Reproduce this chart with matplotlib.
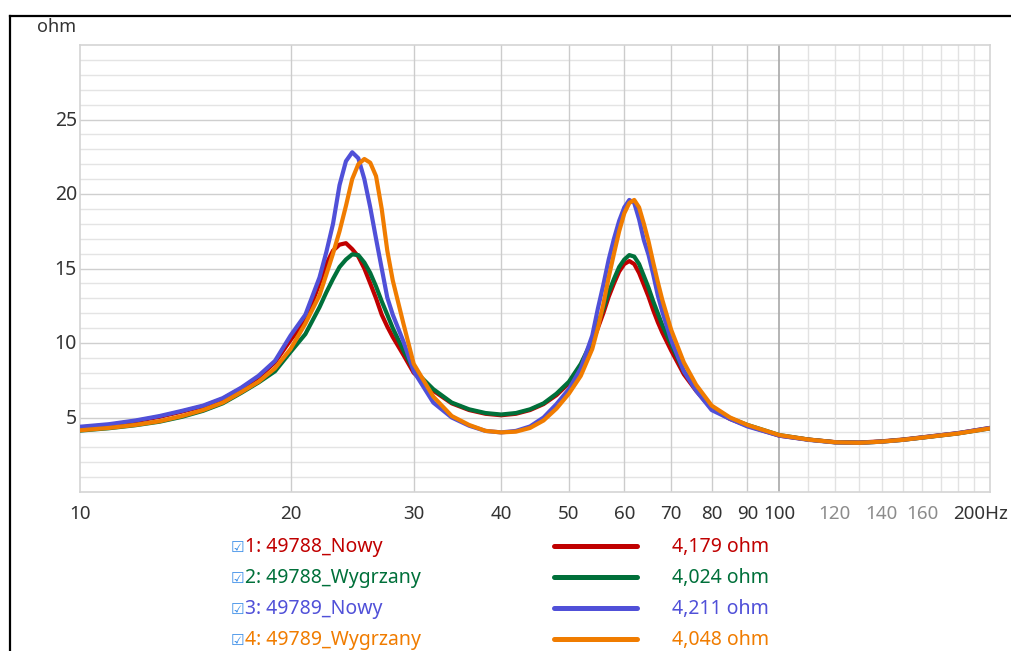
import matplotlib
matplotlib.use("Agg")
import matplotlib.pyplot as plt
from matplotlib.lines import Line2D
from matplotlib.ticker import FixedLocator, NullFormatter

plt.rcParams['font.family'] = ['Noto Sans', 'DejaVu Sans']

# Frequency grid (Hz)
freq = [10, 11, 12, 13, 14, 15, 16, 17, 18, 19, 20, 21, 22, 22.5, 23, 23.5,
        24, 24.5, 25, 25.5, 26, 26.5, 27, 27.5, 28, 29, 30, 32, 34, 36, 38,
        40, 42, 44, 46, 48, 50, 52, 54, 55, 56, 57, 58, 59, 60, 61, 62, 63,
        64, 65, 66, 67, 68, 70, 73, 76, 80, 85, 90,
        100, 110, 120, 130, 140, 150, 160, 180, 200]

# Impedance magnitude (ohm)
z_49788_nowy = [4.33, 4.5, 4.75, 5.05, 5.4, 5.75, 6.25, 6.95, 7.7, 8.7, 10.2,
                11.5, 14.0, 15.3, 16.2, 16.6, 16.7, 16.3, 15.8, 15.0, 14.0,
                13.0, 11.9, 11.1, 10.4, 9.2, 8.0, 6.8, 5.95, 5.5, 5.25,
                5.15, 5.25, 5.5, 5.9, 6.5, 7.3, 8.5, 10.0, 11.0, 12.0, 13.1,
                14.0, 14.8, 15.3, 15.5, 15.3, 14.7,
                13.9, 13.1, 12.2, 11.4, 10.7, 9.5, 7.9, 6.8, 5.6, 4.9, 4.45,
                3.78, 3.52, 3.35, 3.32, 3.4, 3.52, 3.67, 3.95, 4.3]

z_49788_wygrzany = [4.12, 4.28, 4.48, 4.72, 5.05, 5.45, 5.95, 6.65, 7.35, 8.1,
                    9.4, 10.6, 12.4, 13.4, 14.3, 15.1, 15.6, 15.95, 15.9,
                    15.4, 14.7, 13.8, 12.8, 11.9, 11.0, 9.5, 8.2, 6.9, 6.0,
                    5.55, 5.3, 5.2, 5.3, 5.55, 5.95, 6.6, 7.4, 8.6, 10.2, 11.3,
                    12.3, 13.4, 14.3, 15.1, 15.6, 15.9, 15.8, 15.3,
                    14.5, 13.7, 12.8, 12.0, 11.2, 9.9, 8.1, 6.9, 5.7, 4.95, 4.5,
                    3.82, 3.52, 3.34, 3.3, 3.38, 3.5, 3.65, 3.93, 4.27]

z_49789_nowy = [4.38, 4.55, 4.8, 5.1, 5.45, 5.8, 6.3, 7.0, 7.8, 8.8, 10.5,
                11.9, 14.4, 16.1, 18.0, 20.6, 22.2, 22.8, 22.4, 21.0, 19.1,
                17.0, 15.0, 13.05, 11.9, 10.1, 8.1, 6.0, 5.0, 4.45, 4.1,
                4.0, 4.1, 4.4, 5.0, 5.9, 6.9, 8.3, 10.5, 12.3, 13.9, 15.6,
                17.0, 18.2, 19.1, 19.6, 19.4, 18.3,
                16.9, 15.9, 14.6, 13.2, 12.1, 10.2, 8.1, 6.8, 5.5, 4.9, 4.4,
                3.78, 3.5, 3.33, 3.3, 3.38, 3.5, 3.66, 3.95, 4.3]

z_49789_wygrzany = [4.14, 4.3, 4.5, 4.75, 5.1, 5.5, 6.0, 6.7, 7.4, 8.3, 9.6,
                    11.3, 13.2, 14.6, 16.0, 17.5, 19.2, 21.0, 22.0, 22.35, 22.1,
                    21.2, 19.0, 16.2, 14.2, 11.3, 8.6, 6.4, 5.1, 4.5, 4.1,
                    4.0, 4.05, 4.3, 4.8, 5.6, 6.6, 7.8, 9.6, 11.0, 12.6, 14.4,
                    16.0, 17.5, 18.7, 19.4, 19.6, 19.1,
                    18.0, 16.8, 15.4, 14.1, 12.9, 10.9, 8.7, 7.2, 5.8, 5.0, 4.5,
                    3.82, 3.52, 3.34, 3.3, 3.38, 3.5, 3.65, 3.93, 4.27]

series_names = ["1: 49788_Nowy", "2: 49788_Wygrzany", "3: 49789_Nowy",
                "4: 49789_Wygrzany"]
series_re = ["4,179 ohm", "4,024 ohm", "4,211 ohm", "4,048 ohm"]
series_data = [z_49788_nowy, z_49788_wygrzany, z_49789_nowy, z_49789_wygrzany]
series_colors = ["#c00000", "#00703a", "#5050d8", "#f07c00"]

x_dark_ticks = [10, 20, 30, 40, 50, 60, 70, 80, 90, 100]
x_gray_ticks = [120, 140, 160]
y_ticks = [5, 10, 15, 20, 25]

W, H = 1011, 651
fig = plt.figure(figsize=(W / 100, H / 100), dpi=100)


def fx(x):
    return x / W


def fy(y):
    return 1 - y / H


ax_l, ax_r, ax_t, ax_b = 80, 990, 45, 492
ax = fig.add_axes([fx(ax_l), fy(ax_b), fx(ax_r - ax_l), (ax_b - ax_t) / H])
ax.set_xscale('log')
ax.set_xlim(10, 200)
ax.set_ylim(0, 30)

# grid
for v in range(1, 30):
    col = '#cfcfcf' if v % 5 == 0 else '#e4e4e4'
    ax.axhline(v, color=col, lw=1.0, zorder=0)
for f in range(20, 100, 10):
    ax.axvline(f, color='#cccccc', lw=1.0, zorder=0)
ax.axvline(100, color='#a8a8a8', lw=1.2, zorder=0)
for f in range(110, 200, 10):
    ax.axvline(f, color='#e2e2e2', lw=1.0, zorder=0)

for s in ax.spines.values():
    s.set_color('#d4d4d4')
    s.set_linewidth(1.2)

ax.xaxis.set_major_locator(FixedLocator([]))
ax.xaxis.set_minor_locator(FixedLocator([]))
ax.xaxis.set_minor_formatter(NullFormatter())
ax.set_yticks([])
ax.tick_params(length=0)

for z, c in zip(series_data, series_colors):
    ax.plot(freq, z, color=c, lw=3.0, solid_capstyle='round',
            solid_joinstyle='round', zorder=3)

tick_fs = 13.5
label_y = -1.45
for f in x_dark_ticks:
    ax.text(f, label_y, str(f), ha='center', va='center',
            fontsize=tick_fs, color='#333333', clip_on=False)
for f in x_gray_ticks:
    ax.text(f, label_y, str(f), ha='center', va='center',
            fontsize=tick_fs, color='#8c8c8c', clip_on=False)
ax.text(177, label_y, "200Hz", ha='left', va='center',
        fontsize=tick_fs, color='#333333', clip_on=False)
for v in y_ticks:
    fig.text(fx(77), fy(ax_b - (ax_b - ax_t) * v / 30 + 1), str(v),
             ha='right', va='center', fontsize=14, color='#333333')
fig.text(fx(37), fy(27), "ohm", ha='left', va='center', fontsize=13,
         color='#333333')

# outer frame
fig.add_artist(Line2D([fx(10), fx(10)], [fy(15.5), 0], color='black', lw=1.6))
fig.add_artist(Line2D([fx(10), 1], [fy(15.5), fy(15.5)], color='black', lw=1.6))

# legend rows
row_y = [547, 578, 609, 640]
for name, re_txt, c, y in zip(series_names, series_re, series_colors, row_y):
    fig.text(fx(237), fy(y), "\u2611", ha='center', va='center', fontsize=11,
             color='#3c8ee8', family=['DejaVu Sans'])
    fig.text(fx(245), fy(y), name, ha='left', va='center', fontsize=14,
             color=c)
    fig.add_artist(Line2D([fx(554), fx(637)], [fy(y - 1), fy(y - 1)], color=c,
                          lw=3.6, solid_capstyle='round'))
    fig.text(fx(672), fy(y), re_txt, ha='left', va='center', fontsize=14,
             color=c)

fig.savefig("out.png", dpi=100, facecolor='white')
